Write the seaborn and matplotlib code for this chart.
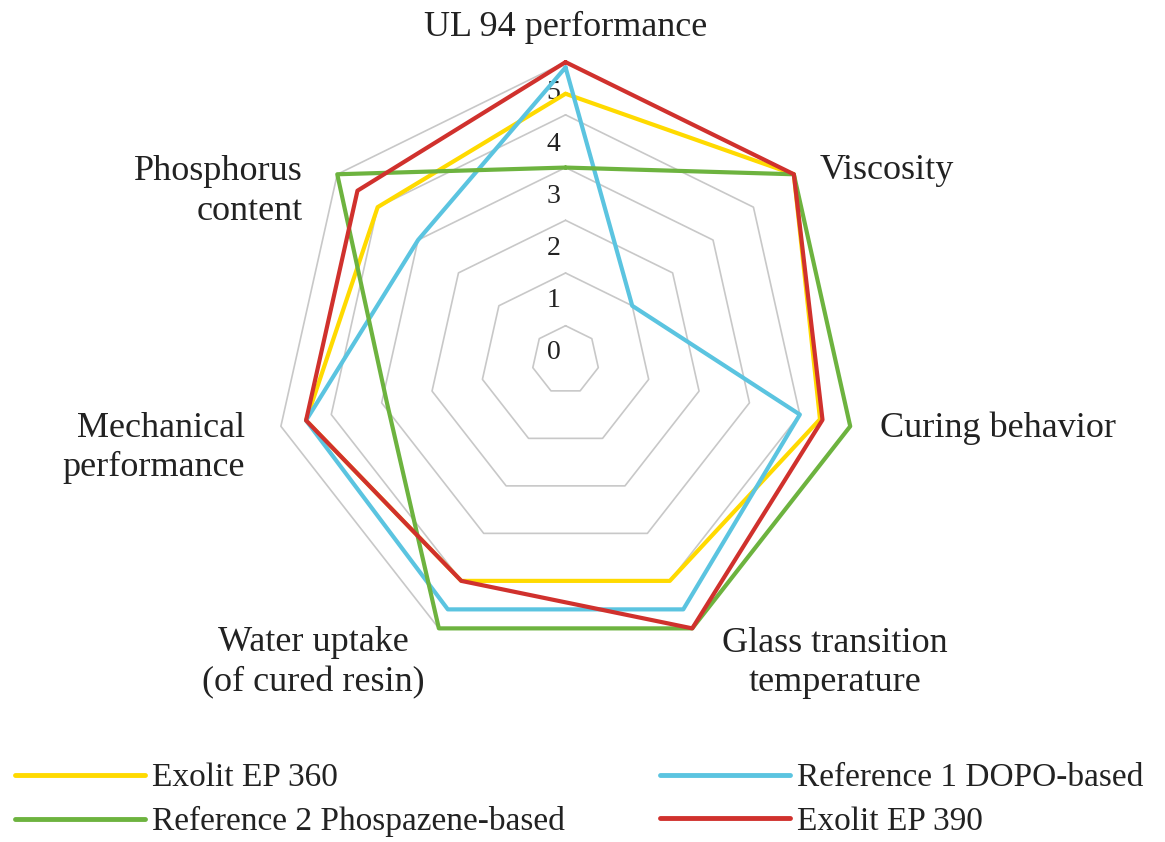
import numpy as np
import pandas as pd
import matplotlib
import matplotlib.pyplot as plt
import matplotlib.transforms as mtransforms
import seaborn as sns

matplotlib.use('agg')
sns.set_style('white')
plt.rcParams['font.family'] = ['Liberation Serif', 'DejaVu Serif']
plt.rcParams['text.color'] = '#222222'

# Categories (radar axes, clockwise from top)
categories = ['UL 94 performance', 'Viscosity', 'Curing behavior',
              'Glass transition\ntemperature', 'Water uptake\n(of cured resin)',
              'Mechanical\nperformance', 'Phosphorus\ncontent']

# Series
series_names = ['Exolit EP 360', 'Reference 1 DOPO-based',
                'Reference 2 Phospazene-based', 'Exolit EP 390']
ep360 = [4.4, 5.0, 4.4, 4.0, 4.0, 4.5, 4.0]
dopo = [4.9, 1.0, 4.0, 4.6, 4.6, 4.5, 3.0]
phosphazene = [3.0, 5.0, 5.0, 5.0, 5.0, 2.9, 5.0]
ep390 = [5.0, 5.0, 4.45, 5.0, 4.0, 4.5, 4.5]

# Grid rings and scale labels
ring_levels = [0, 1, 2, 3, 4, 5]
tick_labels = ['0', '1', '2', '3', '4', '5']

colors = ['#FFDA00', '#5BC4E0', '#6DB33F', '#D0312D']
palette = dict(zip(series_names, colors))

n = len(categories)
theta = np.linspace(0, 2 * np.pi, n, endpoint=False)
theta_closed = np.append(theta, 2 * np.pi)

# Long-form table for seaborn
rows = []
for name, vals in zip(series_names, [ep360, dopo, phosphazene, ep390]):
    closed = list(vals) + [vals[0]]
    for t, v in zip(theta_closed, closed):
        rows.append({'theta': t, 'value': v, 'series': name})
df = pd.DataFrame(rows)

fig = plt.figure(figsize=(11.65, 8.42), dpi=100)
ax = fig.add_axes([0.2082, 0.1811, 0.5545, 0.7827], projection='polar')
ax.set_aspect('auto')
ax.set_theta_zero_location('N')
ax.set_theta_direction(-1)

# Heptagon grid
for lvl in ring_levels:
    ax.plot(theta_closed, [lvl] * (n + 1), color='#C8C8C8', lw=1.2,
            zorder=1, clip_on=False)

sns.lineplot(data=df, x='theta', y='value', hue='series', hue_order=series_names,
             palette=palette, sort=False, estimator=None, linewidth=3,
             ax=ax, zorder=3)
for line in ax.lines:
    line.set_clip_on(False)

handles, labels = ax.get_legend_handles_labels()
ax.get_legend().remove()

ax.set_ylim(-0.65, 5.6)
ax.grid(False)
ax.spines['polar'].set_visible(False)
ax.set_xticks([])
ax.set_yticks([])
ax.set_xlabel('')
ax.set_ylabel('')
ax.patch.set_alpha(0)

# Scale labels, slightly left of the vertical axis
shift = mtransforms.offset_copy(ax.transData, fig=fig, x=-12, y=0, units='dots')
for k, lab in zip(ring_levels, tick_labels):
    ax.text(0, k * 0.985 - 0.50, lab, transform=shift, ha='center', va='center',
            fontsize=20, zorder=2)

# Category labels
label_layout = [(0.0, 5.65, 'center'), (53.9, 5.44, 'left'), (102.0, 5.57, 'left'),
                (137.8, 7.11, 'center'), (220.4, 6.89, 'center'),
                (254.9, 5.77, 'right'), (302.2, 5.35, 'right')]
for cat, (ang, r, ha) in zip(categories, label_layout):
    ax.text(np.deg2rad(ang), r, cat, ha=ha, va='center', fontsize=26,
            linespacing=1.25)

# Legend in two fixed columns
hmap = dict(zip(labels, handles))
for line in handles:
    line.set_linewidth(3.5)
common = dict(loc='upper left', frameon=False, fontsize=24, handlelength=3.9,
              handletextpad=0.2, labelspacing=0.38, borderpad=0, borderaxespad=0)
fig.legend([hmap[series_names[0]], hmap[series_names[2]]],
           [series_names[0], series_names[2]],
           bbox_to_anchor=(15 / 1165, 1 - 763 / 842), **common)
fig.legend([hmap[series_names[1]], hmap[series_names[3]]],
           [series_names[1], series_names[3]],
           bbox_to_anchor=(660 / 1165, 1 - 763 / 842), **common)

fig.savefig('out.png', dpi=100, facecolor='white')
